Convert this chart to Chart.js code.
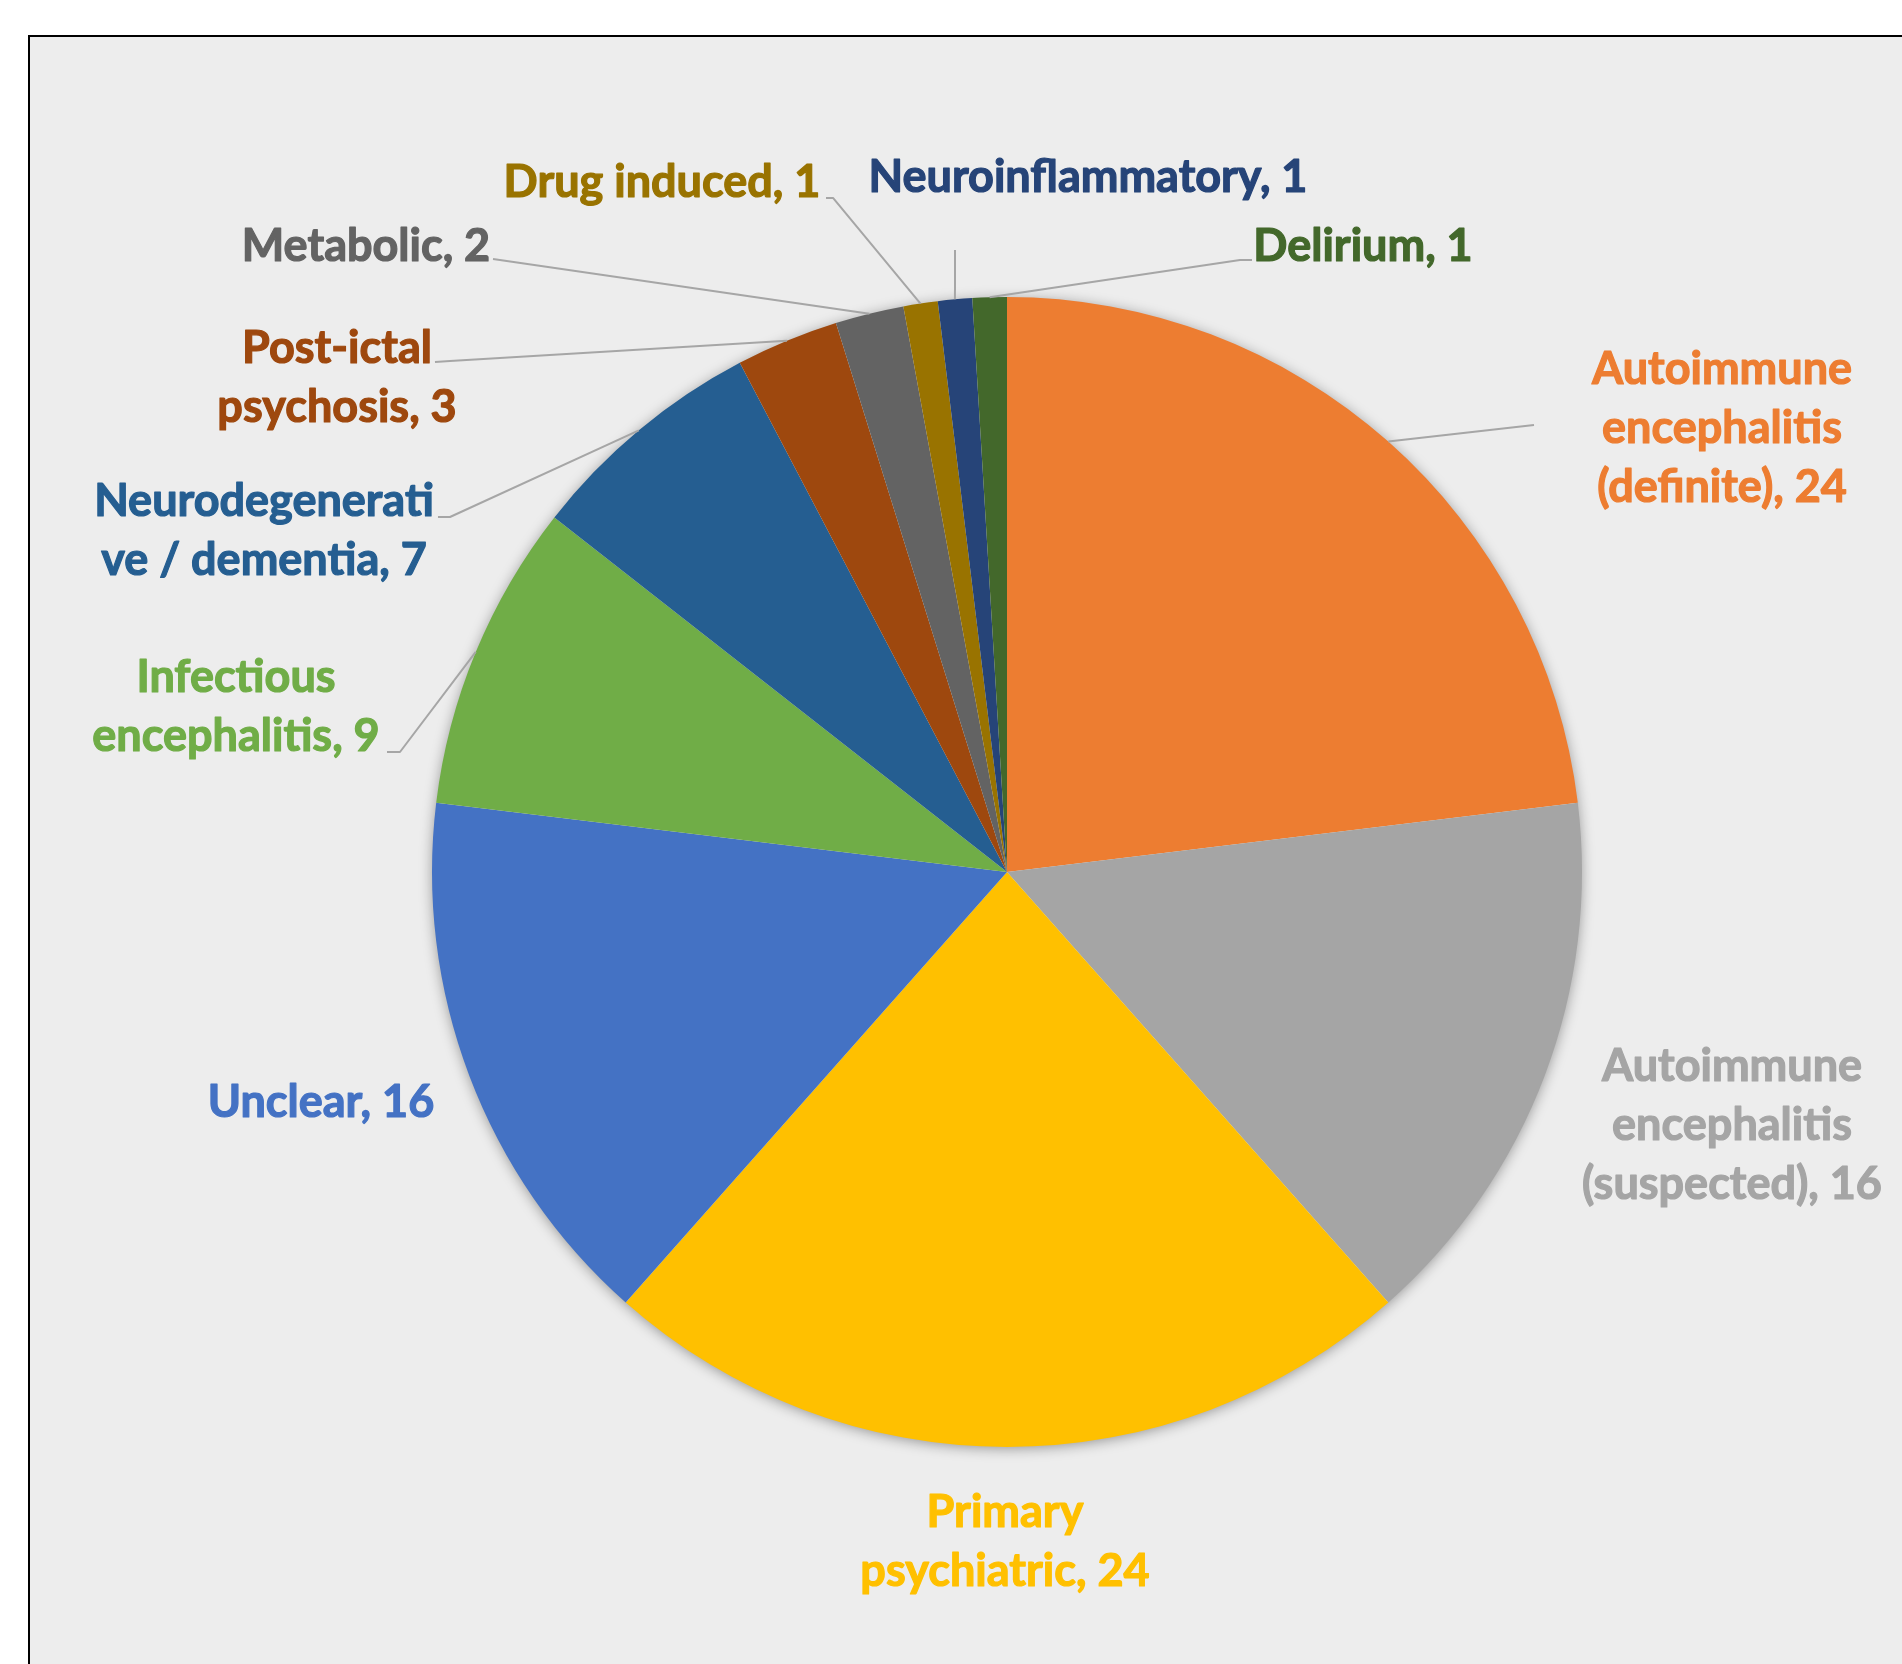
<!DOCTYPE html>
<html>
<head>
<meta charset="utf-8">
<script src="https://cdn.jsdelivr.net/npm/chart.js@4.4.1/dist/chart.umd.min.js"></script>
<style>
  html, body { margin: 0; padding: 0; background: #ffffff; }
  #wrap { width: 1902px; height: 1664px; }
</style>
</head>
<body>
<div id="wrap"><canvas id="c" width="1902" height="1664"></canvas></div>
<script>
// ---- data ----
const categories = [
  "Autoimmune encephalitis (definite)",
  "Autoimmune encephalitis (suspected)",
  "Primary psychiatric",
  "Unclear",
  "Infectious encephalitis",
  "Neurodegenerative / dementia",
  "Post-ictal psychosis",
  "Metabolic",
  "Drug induced",
  "Neuroinflammatory",
  "Delirium"
];
const counts = [24, 16, 24, 16, 9, 7, 3, 2, 1, 1, 1];

// ---- styles ----
const sliceColors = [
  "#ED7D31", "#A5A5A5", "#FFC000", "#4472C4", "#70AD47",
  "#255E91", "#9E480E", "#636363", "#997300", "#264478", "#43682B"
];
// line breaks (character index in "name, value")
const labelBreaks = [[10, 23], [10, 23], [7], [], [10], [15], [10], [], [], [], []];
// label centres, in units of the pie radius relative to the pie centre
const labelPos = [
  [1.2435, -0.7722], [1.2609, 0.4400], [-0.0035, 1.1652], [-1.1930, 0.4010],
  [-1.3409, -0.2870], [-1.2922, -0.5930], [-1.1652, -0.8591], [-1.1148, -1.0887],
  [-0.6000, -1.2000], [0.1409, -1.2070], [0.6191, -1.0870]
];
// leader line points after the slice edge (units of radius relative to centre)
const leaderPts = [
  [[0.9165, -0.7774]],
  null,
  null,
  null,
  [[-1.0557, -0.2087], [-1.0783, -0.2087]],
  [[-0.9687, -0.6174], [-0.9896, -0.6174]],
  [[-0.9687, -0.8887], [-0.9948, -0.8870]],
  [[-0.8939, -1.0661]],
  [[-0.3026, -1.1722], [-0.3148, -1.1722]],
  [[-0.0904, -1.0817]],
  [[0.4052, -1.0643], [0.4261, -1.0643]]
];

function splitLabel(text, breaks) {
  const lines = [];
  let start = 0;
  breaks.forEach(b => {
    lines.push(text.slice(start, b));
    start = (text[b] === ' ') ? b + 1 : b;
  });
  lines.push(text.slice(start));
  return lines;
}

const framePlugin = {
  id: 'frame',
  beforeDraw(chart) {
    const ctx = chart.ctx;
    ctx.save();
    ctx.fillStyle = '#ffffff';
    ctx.fillRect(0, 0, chart.width, chart.height);
    ctx.fillStyle = '#000000';
    ctx.fillRect(28, 35, chart.width, chart.height);
    ctx.fillStyle = '#EDEDED';
    ctx.fillRect(30, 37, chart.width, chart.height);
    ctx.restore();
  },
  beforeDatasetsDraw(chart) {
    const arc = chart.getDatasetMeta(0).data[0];
    if (!arc) return;
    const p = arc.getProps(['x', 'y', 'outerRadius'], true);
    const ctx = chart.ctx;
    ctx.save();
    ctx.shadowColor = 'rgba(0,0,0,0.40)';
    ctx.shadowBlur = 14;
    ctx.shadowOffsetX = 0;
    ctx.shadowOffsetY = 2;
    ctx.fillStyle = '#EDEDED';
    ctx.beginPath();
    ctx.arc(p.x, p.y, p.outerRadius - 1, 0, Math.PI * 2);
    ctx.fill();
    ctx.restore();
  },
  afterDatasetsDraw(chart) {
    const ctx = chart.ctx;
    const meta = chart.getDatasetMeta(0);
    ctx.save();
    meta.data.forEach((arc, i) => {
      const p = arc.getProps(['x', 'y', 'startAngle', 'endAngle', 'outerRadius'], true);
      const R = p.outerRadius;
      const mid = (p.startAngle + p.endAngle) / 2;
      // leader line
      const pts = leaderPts[i];
      if (pts) {
        ctx.strokeStyle = '#A6A6A6';
        ctx.lineWidth = 2;
        ctx.lineJoin = 'round';
        ctx.beginPath();
        ctx.moveTo(p.x + Math.cos(mid) * R, p.y + Math.sin(mid) * R);
        pts.forEach(q => ctx.lineTo(p.x + q[0] * R, p.y + q[1] * R));
        ctx.stroke();
      }
      // label
      const text = chart.data.labels[i] + ', ' + chart.data.datasets[0].data[i];
      const lines = splitLabel(text, labelBreaks[i]);
      const cx = p.x + labelPos[i][0] * R;
      const cy = p.y + labelPos[i][1] * R;
      const lh = 59;
      ctx.fillStyle = sliceColors[i];
      ctx.strokeStyle = sliceColors[i];
      ctx.lineWidth = 1.2;
      ctx.lineJoin = 'round';
      ctx.font = 'bold 45px Lato';
      ctx.textAlign = 'center';
      ctx.textBaseline = 'middle';
      lines.forEach((ln, k) => {
        const y = cy + (k - (lines.length - 1) / 2) * lh;
        ctx.fillText(ln, cx, y);
        ctx.strokeText(ln, cx, y);
      });
    });
    ctx.restore();
  }
};

function build() {
  new Chart(document.getElementById('c'), {
    type: 'pie',
    data: {
      labels: categories,
      datasets: [{
        data: counts,
        backgroundColor: sliceColors,
        borderWidth: 0
      }]
    },
    options: {
      responsive: false,
      maintainAspectRatio: false,
      animation: false,
      layout: { padding: { left: 432, right: 320, top: 297, bottom: 217 } },
      plugins: {
        legend: { display: false },
        tooltip: { enabled: false }
      }
    },
    plugins: [framePlugin]
  });
}
if (document.fonts && document.fonts.load) {
  document.fonts.load('bold 45px Lato').then(build, build);
} else {
  build();
}
</script>
</body>
</html>
